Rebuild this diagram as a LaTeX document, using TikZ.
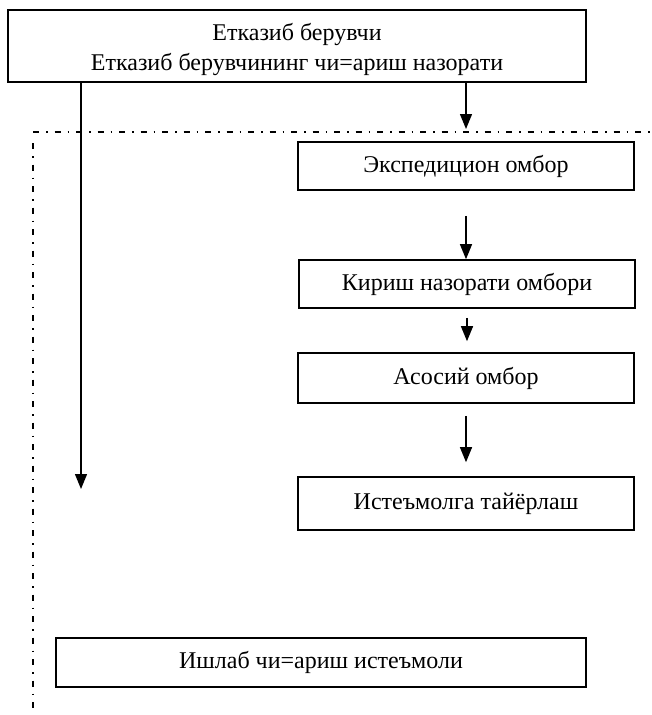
\documentclass[tikz,border=0pt]{standalone}
\usepackage{fontspec}
\setmainfont{Liberation Serif}
\usetikzlibrary{arrows.meta}

\begin{document}
\begin{tikzpicture}[x=1pt,y=-1pt,
    box/.style={draw, line width=1.6pt, inner sep=0pt, align=center,
        font=\fontsize{24}{30}\selectfont},
    arr/.style={line width=1.3pt, -{Triangle[length=15pt,width=12pt]}},
    border/.style={line width=1.5pt, dash pattern=on 6pt off 7pt on 1.5pt off 7pt}]

\useasboundingbox (0,0) rectangle (652,715);

% Supplier box
\node[box, minimum width=578pt, text height=60pt, text depth=12pt] (supplier) at (297,46)
    {Етказиб берувчи\\Етказиб берувчининг чи=ариш назорати};

% Plant border (dash-dot)
\draw[border] (33,132) -- (652,132);
\draw[border] (33,143) -- (33,715);

% Warehouse chain
\node[box, minimum width=336pt, minimum height=48pt] (exped) at (466,166)
    {Экспедицион омбор};
\node[box, minimum width=336pt, minimum height=48pt] (entry) at (467,284)
    {Кириш назорати омбори};
\node[box, minimum width=336pt, minimum height=50pt] (main) at (466,378)
    {Асосий омбор};
\node[box, minimum width=336pt, minimum height=53pt] (prep) at (466,503.5)
    {Истеъмолга тайёрлаш};

% Production consumption
\node[box, minimum width=530pt, minimum height=49pt] (consume) at (321,662.5)
    {Ишлаб чи=ариш истеъмоли};

% Free arrow ends
\coordinate (lefttip) at (81,489);
\coordinate (righttip) at (466,129);

% Arrows
\draw[arr] (supplier.south -| lefttip) -- (lefttip);
\draw[arr] (supplier.south -| righttip) -- (righttip);
\draw[arr, shorten <=25pt] (exped.south) -- (exped.south |- entry.north);
\draw[arr, shorten <=9pt, shorten >=11pt] (entry.south) -- (entry.south |- main.north);
\draw[arr, shorten <=12pt, shorten >=14pt] (main.south) -- (main.south |- prep.north);

\end{tikzpicture}
\end{document}
